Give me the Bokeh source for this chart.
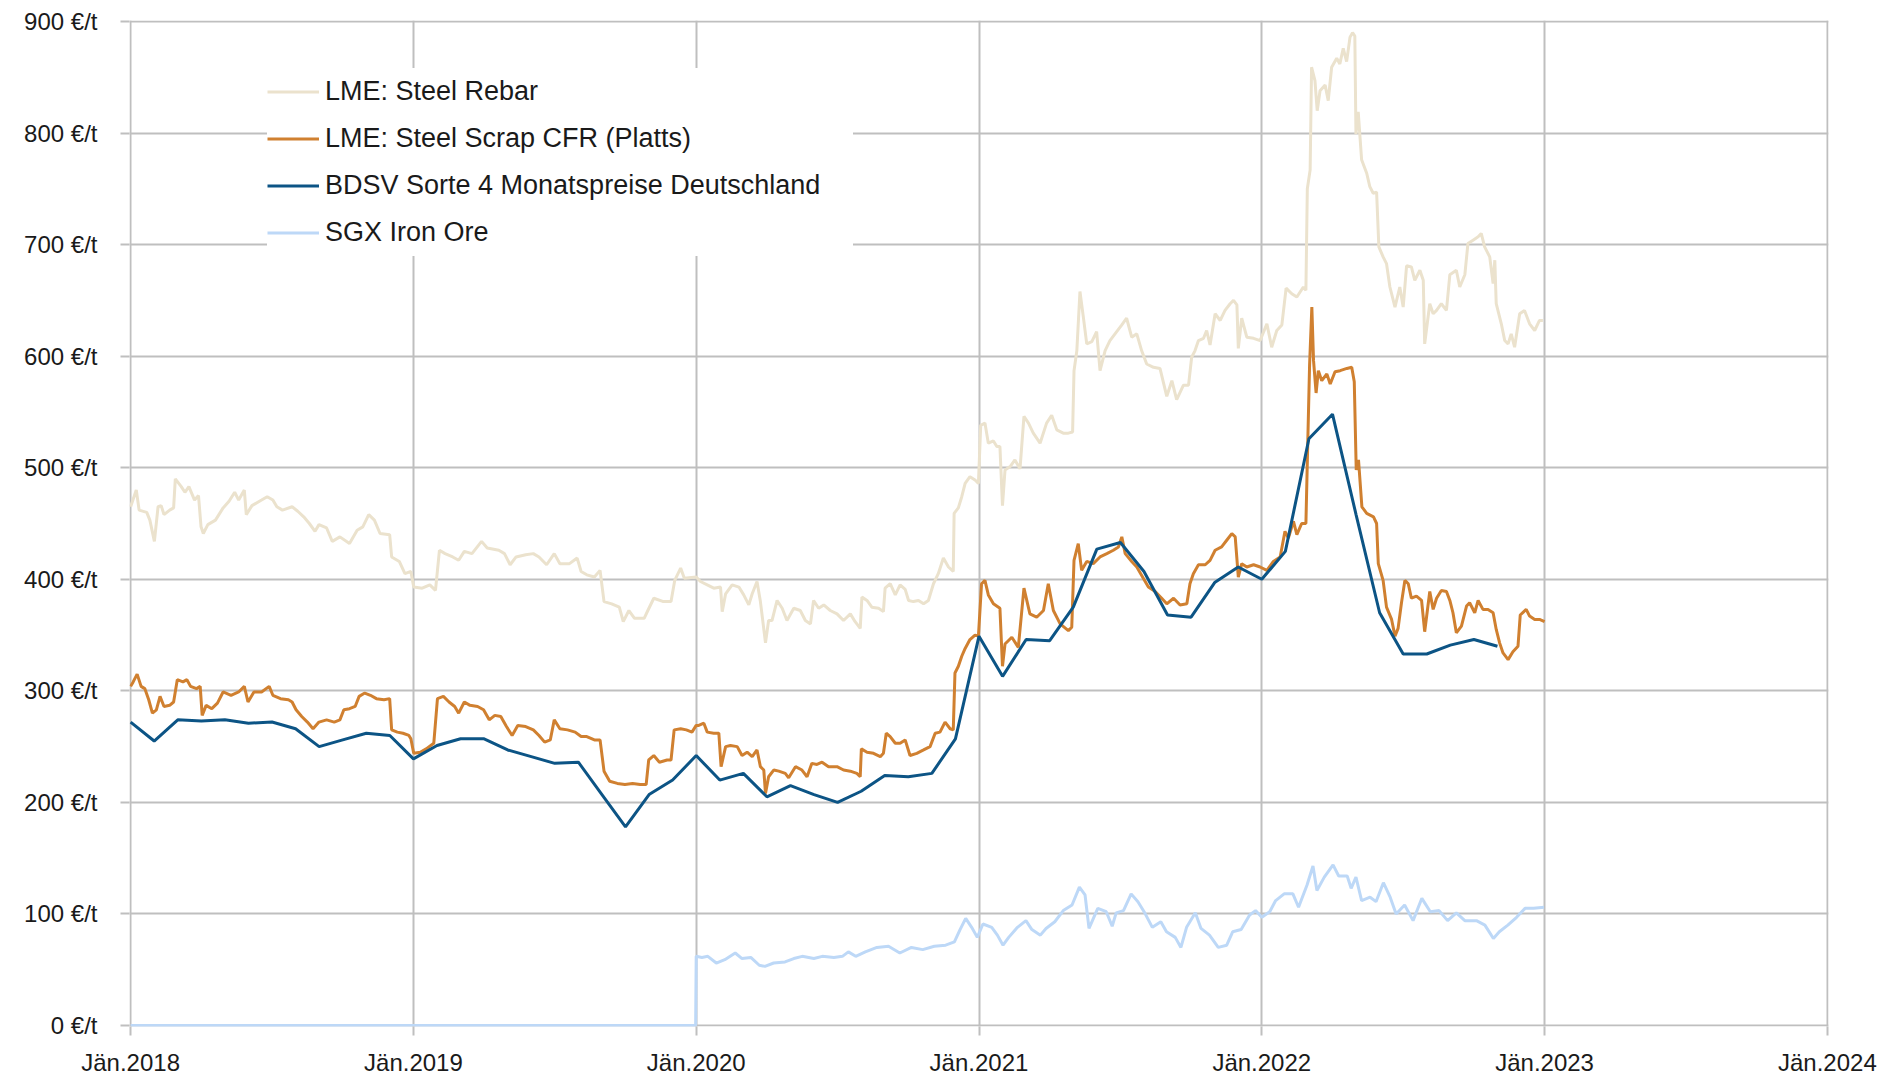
from bokeh.plotting import figure
from bokeh.models import Range1d, FixedTicker, Legend, LegendItem
from bokeh.embed import file_html
from bokeh.resources import INLINE

# ---------------- data (decimal years, EUR/t) ----------------
x_ticks = [2018, 2019, 2020, 2021, 2022, 2023, 2024]
x_tick_labels = ["Jän.2018", "Jän.2019", "Jän.2020", "Jän.2021", "Jän.2022", "Jän.2023", "Jän.2024"]
y_ticks = [0, 100, 200, 300, 400, 500, 600, 700, 800, 900]
y_tick_labels = ["0 €/t", "100 €/t", "200 €/t", "300 €/t", "400 €/t", "500 €/t",
                 "600 €/t", "700 €/t", "800 €/t", "900 €/t"]

series_names = ["LME: Steel Rebar", "LME: Steel Scrap CFR (Platts)",
                "BDSV Sorte 4 Monatspreise Deutschland", "SGX Iron Ore"]

rebar_year = [
    2018.000, 2018.020, 2018.030, 2018.057, 2018.068, 2018.084, 2018.097, 2018.108, 2018.118, 2018.138,
    2018.152, 2018.158, 2018.179, 2018.192, 2018.206, 2018.226, 2018.240, 2018.249, 2018.257, 2018.273,
    2018.300, 2018.327, 2018.348, 2018.368, 2018.382, 2018.402, 2018.409, 2018.429, 2018.463, 2018.483,
    2018.503, 2018.517, 2018.537, 2018.571, 2018.591, 2018.612, 2018.632, 2018.652, 2018.666, 2018.693,
    2018.713, 2018.740, 2018.774, 2018.801, 2018.821, 2018.842, 2018.862, 2018.882, 2018.916, 2018.923,
    2018.950, 2018.970, 2018.991,
    2019.001, 2019.031, 2019.058, 2019.078, 2019.092, 2019.112, 2019.139, 2019.160, 2019.180, 2019.207,
    2019.241, 2019.261, 2019.302, 2019.322, 2019.342, 2019.363, 2019.397, 2019.424, 2019.444, 2019.471,
    2019.498, 2019.518, 2019.552, 2019.579, 2019.593, 2019.613, 2019.640, 2019.660, 2019.674, 2019.701,
    2019.728, 2019.742, 2019.762, 2019.782, 2019.816, 2019.829, 2019.850, 2019.884, 2019.911, 2019.924,
    2019.945, 2019.958,
    2020.000, 2020.015, 2020.039, 2020.062, 2020.086, 2020.092, 2020.104, 2020.127, 2020.151, 2020.168,
    2020.186, 2020.198, 2020.215, 2020.227, 2020.245, 2020.256, 2020.268, 2020.286, 2020.304, 2020.321,
    2020.345, 2020.368, 2020.386, 2020.404, 2020.415, 2020.433, 2020.451, 2020.474, 2020.498, 2020.521,
    2020.545, 2020.562, 2020.580, 2020.586, 2020.604, 2020.621, 2020.645, 2020.662, 2020.668, 2020.686,
    2020.704, 2020.721, 2020.739, 2020.751, 2020.768, 2020.786, 2020.804, 2020.821, 2020.839, 2020.856,
    2020.874, 2020.892, 2020.909, 2020.912, 2020.927, 2020.939, 2020.951, 2020.968, 2020.986, 2020.998,
    2021.006, 2021.021, 2021.033, 2021.051, 2021.063, 2021.074, 2021.083, 2021.092, 2021.110, 2021.127,
    2021.145, 2021.159, 2021.175, 2021.192, 2021.216, 2021.239, 2021.257, 2021.275, 2021.298, 2021.316,
    2021.331, 2021.336, 2021.346, 2021.357, 2021.369, 2021.381, 2021.399, 2021.416, 2021.428, 2021.446,
    2021.463, 2021.481, 2021.505, 2021.522, 2021.540, 2021.558, 2021.575, 2021.593, 2021.617, 2021.640,
    2021.664, 2021.682, 2021.699, 2021.723, 2021.741, 2021.752, 2021.764, 2021.776, 2021.794, 2021.805,
    2021.817, 2021.835, 2021.853, 2021.870, 2021.888, 2021.900, 2021.912, 2021.917, 2021.929, 2021.947,
    2021.971, 2021.994,
    2022.018, 2022.035, 2022.053, 2022.071, 2022.086, 2022.106, 2022.124, 2022.147, 2022.156, 2022.161,
    2022.171, 2022.176, 2022.188, 2022.196, 2022.206, 2022.224, 2022.235, 2022.247, 2022.265, 2022.276,
    2022.288, 2022.300, 2022.312, 2022.321, 2022.329, 2022.333, 2022.341, 2022.353, 2022.371, 2022.382,
    2022.394, 2022.406, 2022.414, 2022.429, 2022.441, 2022.453, 2022.471, 2022.488, 2022.500, 2022.512,
    2022.529, 2022.541, 2022.559, 2022.571, 2022.576, 2022.594, 2022.606, 2022.618, 2022.635, 2022.653,
    2022.665, 2022.688, 2022.700, 2022.718, 2022.729, 2022.747, 2022.765, 2022.776, 2022.788, 2022.806,
    2022.818, 2022.824, 2022.829, 2022.847, 2022.859, 2022.871, 2022.882, 2022.894, 2022.912, 2022.929,
    2022.947, 2022.965, 2022.982, 2022.994,
]
rebar_val = [
    465, 480, 462, 460, 453, 434, 465, 466, 458, 462,
    464, 490, 483, 478, 483, 471, 475, 447, 441, 449,
    453, 464, 470, 478, 471, 480, 458, 466, 471, 474,
    471, 465, 462, 465, 461, 456, 450, 443, 449, 446,
    434, 438, 432, 444, 447, 458, 453, 441, 440, 420,
    416, 405, 407,
    393, 392, 395, 390, 426, 423, 420, 417, 425, 423,
    434, 428, 426, 423, 413, 420, 422, 423, 420, 413,
    423, 414, 414, 419, 407, 404, 402, 408, 380, 378,
    375, 362, 372, 365, 365, 372, 383, 380, 380, 399,
    410, 401,
    402, 398, 395, 392, 393, 371, 387, 395, 393, 386,
    377, 387, 398, 380, 343, 363, 363, 381, 374, 363,
    374, 372, 363, 360, 381, 374, 377, 372, 369, 363,
    369, 362, 356, 384, 381, 375, 374, 371, 392, 396,
    386, 395, 391, 381, 380, 381, 378, 381, 396, 405,
    419, 411, 407, 459, 464, 474, 486, 492, 489, 486,
    538, 540, 522, 524, 519, 519, 466, 498, 501, 507,
    499, 546, 540, 531, 522, 540, 547, 534, 531, 531,
    532, 587, 605, 658, 635, 611, 613, 622, 587, 605,
    614, 620, 628, 634, 617, 620, 605, 593, 590, 589,
    564, 578, 561, 574, 574, 599, 605, 614, 616, 623,
    610, 638, 632, 641, 647, 650, 646, 607, 634, 617,
    616, 614,
    629, 608, 623, 628, 661, 656, 653, 662, 659, 750,
    767, 859, 847, 820, 838, 843, 829, 859, 867, 862,
    876, 864, 886, 890, 887, 799, 819, 776, 764, 752,
    746, 747, 698, 689, 683, 662, 644, 662, 644, 681,
    680, 668, 677, 668, 611, 647, 638, 641, 647, 641,
    673, 677, 662, 673, 701, 704, 707, 710, 698, 689,
    665, 686, 647, 629, 614, 611, 620, 608, 638, 641,
    629, 623, 632, 632,
]

scrap_year = [
    2018.000, 2018.009, 2018.023, 2018.037, 2018.050, 2018.064, 2018.077, 2018.091, 2018.104, 2018.118,
    2018.138, 2018.152, 2018.165, 2018.185, 2018.199, 2018.212, 2018.233, 2018.246, 2018.253, 2018.267,
    2018.287, 2018.307, 2018.327, 2018.355, 2018.382, 2018.402, 2018.415, 2018.436, 2018.463, 2018.490,
    2018.503, 2018.530, 2018.558, 2018.571, 2018.585, 2018.605, 2018.625, 2018.645, 2018.666, 2018.693,
    2018.720, 2018.740, 2018.754, 2018.774, 2018.794, 2018.808, 2018.828, 2018.848, 2018.869, 2018.896,
    2018.916, 2018.923, 2018.943, 2018.963, 2018.984, 2018.991,
    2019.001, 2019.024, 2019.045, 2019.072, 2019.085, 2019.106, 2019.126, 2019.146, 2019.160, 2019.180,
    2019.200, 2019.227, 2019.248, 2019.268, 2019.288, 2019.309, 2019.329, 2019.349, 2019.369, 2019.397,
    2019.424, 2019.444, 2019.464, 2019.484, 2019.498, 2019.518, 2019.545, 2019.572, 2019.593, 2019.613,
    2019.640, 2019.660, 2019.674, 2019.694, 2019.721, 2019.748, 2019.775, 2019.802, 2019.823, 2019.832,
    2019.850, 2019.870, 2019.897, 2019.911, 2019.922, 2019.945, 2019.965, 2019.985,
    2020.000, 2020.009, 2020.027, 2020.039, 2020.062, 2020.080, 2020.088, 2020.104, 2020.121, 2020.145,
    2020.162, 2020.180, 2020.198, 2020.215, 2020.227, 2020.239, 2020.245, 2020.256, 2020.274, 2020.292,
    2020.315, 2020.327, 2020.351, 2020.374, 2020.392, 2020.409, 2020.427, 2020.445, 2020.468, 2020.498,
    2020.521, 2020.545, 2020.568, 2020.580, 2020.584, 2020.604, 2020.627, 2020.651, 2020.662, 2020.672,
    2020.686, 2020.704, 2020.721, 2020.739, 2020.756, 2020.780, 2020.804, 2020.827, 2020.845, 2020.862,
    2020.880, 2020.898, 2020.909, 2020.915, 2020.927, 2020.939, 2020.951, 2020.968, 2020.986, 2020.998,
    2021.009, 2021.021, 2021.033, 2021.051, 2021.074, 2021.083, 2021.092, 2021.116, 2021.139, 2021.159,
    2021.180, 2021.204, 2021.228, 2021.245, 2021.263, 2021.287, 2021.316, 2021.328, 2021.336, 2021.351,
    2021.363, 2021.381, 2021.404, 2021.428, 2021.452, 2021.475, 2021.493, 2021.505, 2021.517, 2021.540,
    2021.558, 2021.581, 2021.599, 2021.623, 2021.646, 2021.664, 2021.688, 2021.711, 2021.735, 2021.746,
    2021.758, 2021.776, 2021.800, 2021.817, 2021.835, 2021.858, 2021.876, 2021.894, 2021.906, 2021.917,
    2021.929, 2021.947, 2021.971, 2021.994,
    2022.018, 2022.041, 2022.065, 2022.082, 2022.094, 2022.112, 2022.124, 2022.141, 2022.156, 2022.162,
    2022.169, 2022.177, 2022.183, 2022.192, 2022.200, 2022.212, 2022.230, 2022.242, 2022.259, 2022.277,
    2022.301, 2022.318, 2022.327, 2022.334, 2022.342, 2022.354, 2022.371, 2022.395, 2022.406, 2022.412,
    2022.429, 2022.441, 2022.459, 2022.471, 2022.482, 2022.494, 2022.506, 2022.518, 2022.529, 2022.547,
    2022.565, 2022.576, 2022.594, 2022.606, 2022.618, 2022.635, 2022.653, 2022.665, 2022.676, 2022.688,
    2022.706, 2022.724, 2022.735, 2022.753, 2022.765, 2022.782, 2022.800, 2022.818, 2022.829, 2022.841,
    2022.853, 2022.871, 2022.888, 2022.906, 2022.914, 2022.935, 2022.947, 2022.965, 2022.982, 2023.000,
]
scrap_val = [
    304, 308, 315, 304, 302, 292, 280, 283, 295, 286,
    287, 290, 310, 308, 310, 304, 302, 304, 278, 287,
    284, 289, 299, 296, 299, 304, 290, 299, 299, 304,
    296, 293, 292, 290, 283, 277, 272, 266, 272, 274,
    272, 274, 283, 284, 286, 295, 298, 296, 293, 292,
    293, 265, 263, 262, 260, 257,
    244, 245, 248, 253, 293, 295, 290, 286, 280, 290,
    287, 286, 283, 274, 278, 277, 268, 260, 269, 268,
    265, 260, 254, 256, 274, 266, 265, 263, 259, 259,
    256, 256, 228, 219, 217, 216, 217, 216, 216, 238,
    242, 236, 238, 238, 265, 266, 265, 263,
    269, 269, 271, 263, 262, 262, 232, 250, 251, 250,
    242, 245, 241, 247, 232, 229, 208, 223, 229, 228,
    226, 222, 232, 229, 223, 235, 234, 236, 232, 232,
    229, 228, 226, 223, 248, 245, 244, 241, 244, 262,
    259, 253, 253, 256, 242, 244, 247, 250, 262, 263,
    272, 266, 265, 316, 322, 331, 338, 346, 350, 349,
    396, 399, 386, 378, 374, 322, 342, 348, 339, 392,
    369, 366, 372, 396, 372, 360, 354, 357, 417, 432,
    408, 416, 414, 420, 423, 426, 429, 438, 423, 416,
    411, 401, 393, 389, 383, 378, 383, 377, 378, 396,
    405, 413, 413, 417, 426, 429, 435, 441, 438, 402,
    414, 411, 413, 411,
    408, 416, 420, 443, 437, 452, 440, 450, 450, 516,
    592, 644, 596, 567, 587, 578, 584, 575, 586, 587,
    589, 590, 577, 498, 507, 465, 459, 456, 450, 414,
    399, 375, 364, 349, 356, 379, 399, 396, 383, 385,
    381, 353, 389, 373, 383, 390, 389, 381, 370, 352,
    358, 376, 379, 370, 381, 373, 373, 370, 355, 343,
    334, 328, 335, 340, 368, 373, 367, 364, 364, 362,
]

bdsv_year_start = 2018
bdsv_val = [
    272, 255, 274, 273, 274, 271, 272, 266, 250, 256, 262, 260,   # 2018
    239, 251, 257, 257, 247, 241, 235, 236, 207, 178, 207, 220,   # 2019
    242, 220, 226, 205, 215, 207, 200, 210, 224, 223, 226, 257,   # 2020
    349, 313, 346, 345, 375, 427, 433, 407, 368, 366, 397, 411,   # 2021
    400, 425, 526, 548, 458, 370, 333, 333, 341, 346, 340,        # 2022 (Jan-Nov)
]

sgx_year = [
    2018.000, 2019.998, 2020.000, 2020.020, 2020.041, 2020.071, 2020.101, 2020.138, 2020.162, 2020.193,
    2020.223, 2020.243, 2020.274, 2020.314, 2020.345, 2020.375, 2020.416, 2020.446, 2020.487, 2020.517,
    2020.538, 2020.564, 2020.598, 2020.639, 2020.680, 2020.720, 2020.761, 2020.801, 2020.842, 2020.882,
    2020.913, 2020.933, 2020.953, 2020.974, 2020.994, 2021.014, 2021.045, 2021.065, 2021.085, 2021.105,
    2021.136, 2021.166, 2021.187, 2021.217, 2021.237, 2021.268, 2021.298, 2021.329, 2021.355, 2021.375,
    2021.389, 2021.420, 2021.450, 2021.471, 2021.485, 2021.511, 2021.538, 2021.562, 2021.586, 2021.613,
    2021.643, 2021.663, 2021.694, 2021.714, 2021.734, 2021.765, 2021.785, 2021.815, 2021.846, 2021.876,
    2021.897, 2021.927, 2021.957, 2021.978, 2022.000, 2022.028, 2022.049, 2022.079, 2022.110, 2022.130,
    2022.160, 2022.181, 2022.195, 2022.221, 2022.252, 2022.272, 2022.302, 2022.316, 2022.333, 2022.353,
    2022.383, 2022.404, 2022.430, 2022.454, 2022.475, 2022.505, 2022.535, 2022.566, 2022.596, 2022.627,
    2022.657, 2022.688, 2022.718, 2022.759, 2022.789, 2022.819, 2022.840, 2022.870, 2022.901, 2022.931,
    2022.961, 2022.998,
]
sgx_val = [
    0, 0, 62, 61, 62, 56, 59, 65, 60, 61,
    54, 53, 56, 57, 60, 62, 60, 62, 61, 62,
    66, 62, 66, 70, 71, 65, 70, 68, 71, 72,
    75, 86, 96, 88, 79, 91, 88, 81, 72, 79,
    88, 94, 86, 81, 87, 93, 103, 108, 124, 117,
    87, 105, 102, 89, 101, 103, 118, 111, 101, 88,
    93, 84, 79, 70, 88, 101, 87, 81, 70, 72,
    84, 86, 99, 103, 97, 102, 112, 118, 118, 106,
    126, 143, 121, 133, 144, 134, 134, 123, 133, 112,
    115, 111, 128, 115, 100, 108, 94, 114, 102, 103,
    94, 101, 94, 94, 90, 78, 84, 90, 97, 105,
    105, 106,
]

bdsv_year = [bdsv_year_start + i / 12 for i in range(len(bdsv_val))]

# ---------------- styling ----------------
COL_REBAR = "#EBE2CD"
COL_SCRAP = "#D08030"
COL_BDSV = "#0C5485"
COL_SGX = "#BDD8F7"
GRID = "#BFBFBF"
TICK_FONT = "Liberation Sans"
LEGEND_FONT = "Liberation Sans"

p = figure(frame_width=1699, frame_height=1006,
           x_range=Range1d(2017.996, 2024.004), y_range=Range1d(-0.9, 900.9),
           output_backend="svg", toolbar_location=None,
           min_border_left=129, min_border_right=62,
           min_border_top=20, min_border_bottom=44)
p.outline_line_color = None
p.background_fill_color = "white"
p.border_fill_color = "white"

for ax in (p.xaxis, p.yaxis):
    ax.axis_line_color = None
    ax.major_tick_line_color = GRID
    ax.major_tick_line_width = 2
    ax.major_tick_out = 9
    ax.major_tick_in = 0
    ax.minor_tick_line_color = None
    ax.major_label_text_font = TICK_FONT
    ax.major_label_text_font_size = "24px"
    ax.major_label_text_color = "#1a1a1a"

p.xaxis.ticker = FixedTicker(ticks=x_ticks)
p.xaxis.major_label_overrides = {t: l for t, l in zip(x_ticks, x_tick_labels)}
p.xaxis.major_label_standoff = 13
p.yaxis.ticker = FixedTicker(ticks=y_ticks)
p.yaxis.major_label_overrides = {t: l for t, l in zip(y_ticks, y_tick_labels)}
p.yaxis.major_label_standoff = 23

p.xgrid.grid_line_color = GRID
p.ygrid.grid_line_color = GRID
p.xgrid.grid_line_width = 2
p.ygrid.grid_line_width = 2

r_rebar = p.line(rebar_year, rebar_val, line_color=COL_REBAR, line_width=3)
r_scrap = p.line(scrap_year, scrap_val, line_color=COL_SCRAP, line_width=3)
r_bdsv = p.line(bdsv_year, bdsv_val, line_color=COL_BDSV, line_width=3)
r_sgx = p.line(sgx_year, sgx_val, line_color=COL_SGX, line_width=3)

legend = Legend(items=[LegendItem(label=n, renderers=[r]) for n, r in
                       zip(series_names, [r_rebar, r_scrap, r_bdsv, r_sgx])],
                location=(138, 770))
legend.background_fill_color = "white"
legend.background_fill_alpha = 1.0
legend.border_line_color = None
legend.label_text_font = LEGEND_FONT
legend.label_text_font_size = "27px"
legend.label_text_color = "#1a1a1a"
legend.glyph_width = 52
legend.glyph_height = 47
legend.label_height = 47
legend.label_width = 528
legend.label_standoff = 6
legend.spacing = 0
legend.padding = 16
legend.margin = 0
p.add_layout(legend)

open("out.html", "w").write(file_html(p, INLINE))
